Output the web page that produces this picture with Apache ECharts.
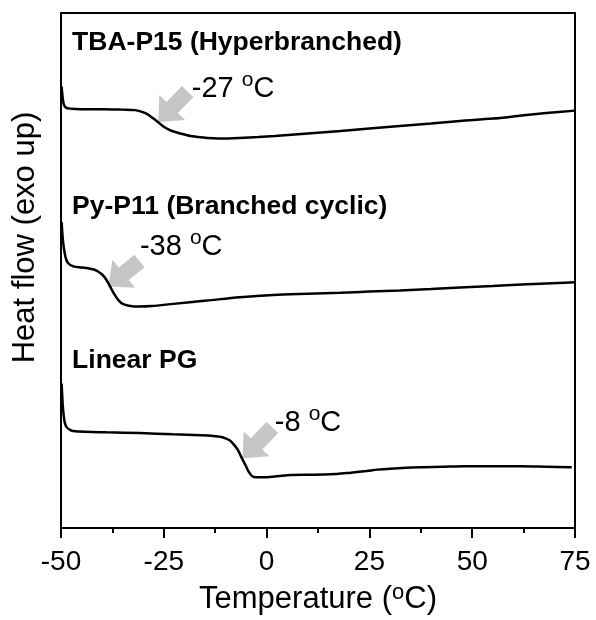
<!DOCTYPE html>
<html>
<head>
<meta charset="utf-8">
<script src="https://cdn.jsdelivr.net/npm/echarts@6/dist/echarts.min.js"></script>
<style>
html,body{margin:0;padding:0;background:#fff;}
#chart{width:596px;height:620px;}
</style>
</head>
<body>
<div id="chart"></div>
<script>
// ---- data (temperature in °C, heat flow in arbitrary units) ----
const tbaP15 = [
  [-49.85, 443], [-49.6, 432], [-49.3, 425], [-48.8, 422], [-47.8, 421], [-45, 420.5],
  [-40, 420.5], [-35, 420], [-32, 419.5], [-30.5, 418], [-29, 415.5], [-27.5, 411],
  [-26, 406], [-24.5, 401.5], [-23, 398.5], [-21, 396], [-18.5, 393.5], [-16, 392.2],
  [-13, 391.2], [-10, 391], [-6.5, 391.5], [-2, 392.5], [2, 393.5], [10, 396],
  [18, 398.5], [25, 401], [32.4, 403.5], [40, 406], [47, 408.5], [55, 411],
  [62, 414], [68, 416.5], [75, 419]
];
const pyP11 = [
  [-49.85, 307], [-49.6, 292], [-49.3, 281], [-48.9, 272], [-48.3, 266], [-47, 262.7],
  [-45, 261.5], [-43.5, 260.8], [-42, 259.5], [-41, 257.5], [-40, 254.5], [-39, 249.5],
  [-38, 242], [-37, 234.5], [-36, 228.5], [-35, 225], [-33.5, 223.2], [-31, 222.3],
  [-28, 222.8], [-22.7, 225], [-14.6, 228.3], [-6.5, 231.7], [1.6, 234], [10, 235.2],
  [18, 236.2], [25, 237.3], [32.4, 238.5], [40, 240], [47, 241.5], [55, 243],
  [62, 244.5], [68, 245.5], [75, 246.7]
];
const linearPG = [
  [-49.85, 145], [-49.6, 125], [-49.4, 115], [-49.1, 106], [-48.6, 101], [-47.8, 98.5],
  [-47, 97.3], [-44, 96.5], [-38.9, 96], [-30.8, 95.3], [-22.7, 94], [-16, 93],
  [-13, 92.3], [-11, 91.3], [-10, 90], [-9, 88], [-8, 84], [-7, 78.5], [-6, 70],
  [-5, 62], [-4.3, 56], [-3.5, 52], [-2.5, 51], [0, 51], [3, 52.2], [6, 53.2],
  [10, 53.4], [14, 53.6], [17, 54.2], [19.5, 55.1], [22, 56.3], [24.3, 57.3], [27, 58.6],
  [30, 59.6], [34, 60.5], [38, 61], [43, 61.5], [48, 62], [55, 62], [62, 62], [68, 61.5], [74.2, 61]
];
const xTicks = [-50, -25, 0, 25, 50, 75];
// curve names and their label anchor points
const curveNames = ['TBA-P15 (Hyperbranched)', 'Py-P11 (Branched cyclic)', 'Linear PG'];
const nameAnchors = [[-47.3, 487], [-47.3, 323], [-47.3, 168]];
// glass transition annotations
const tgValues = ['-27', '-38', '-8'];
const tgAnchors = [[-18.2, 443], [-30.8, 284.5], [2.0, 107.5]];
// arrows: [tailT, tailY, tipT, tipY]
const arrows = [
  [-19.2, 438, -26.34, 407.7],
  [-30.9, 268, -38.5, 242.5],
  [1.4, 101, -5.81, 70]
];

const chart = echarts.init(document.getElementById('chart'));
const FONT = 'Liberation Sans, Arial, sans-serif';

function arrowItem(params, api) {
  const q = api.coord([api.value(0), api.value(1)]);
  const p = api.coord([api.value(2), api.value(3)]);
  const dx = p[0] - q[0], dy = p[1] - q[1];
  const L = Math.sqrt(dx * dx + dy * dy);
  const ux = dx / L, uy = dy / L;
  const nx = -uy, ny = ux;
  const hl = 20, hw = 18, sw = 8;
  const bx = p[0] - ux * hl, by = p[1] - uy * hl;
  const pts = [
    [q[0] + nx * sw, q[1] + ny * sw],
    [bx + nx * sw, by + ny * sw],
    [bx + nx * hw, by + ny * hw],
    [p[0], p[1]],
    [bx - nx * hw, by - ny * hw],
    [bx - nx * sw, by - ny * sw],
    [q[0] - nx * sw, q[1] - ny * sw]
  ];
  return { type: 'polygon', shape: { points: pts }, style: { fill: '#c6c6c6' }, z2: 1 };
}

const lineStyle = { color: '#000', width: 2.5 };

const option = {
  animation: false,
  backgroundColor: '#fff',
  textStyle: { fontFamily: FONT },
  grid: { left: 61, right: 21, top: 13, bottom: 90 },
  xAxis: [{
    type: 'value', min: -50, max: 75, interval: 25,
    axisLine: { show: true, onZero: false, lineStyle: { color: '#000', width: 2 } },
    axisTick: { show: true, inside: false, length: 10, lineStyle: { color: '#000', width: 2 } },
    minorTick: { show: true, splitNumber: 2, length: 5, lineStyle: { color: '#000', width: 2 } },
    axisLabel: { show: true, fontSize: 28, color: '#000', margin: 20, fontFamily: FONT,
      formatter: function (v) { return xTicks.indexOf(v) >= 0 ? String(v) : ''; } },
    splitLine: { show: false },
    name: '{a|Temperature (}{s|o}{a|C)}',
    nameLocation: 'middle', nameGap: 54,
    nameTextStyle: { fontFamily: FONT, color: '#000',
      rich: { a: { fontSize: 31, color: '#000', fontFamily: FONT, padding: [2, 0, 0, 0] },
              s: { fontSize: 22, color: '#000', fontFamily: FONT, verticalAlign: 'top' } } }
  }, {
    type: 'value', position: 'top', min: -50, max: 75,
    axisLine: { show: true, onZero: false, lineStyle: { color: '#000', width: 2 } },
    axisTick: { show: false }, axisLabel: { show: false }, splitLine: { show: false }
  }],
  yAxis: [{
    type: 'value', min: 0, max: 517,
    axisLine: { show: true, onZero: false, lineStyle: { color: '#000', width: 2 } },
    axisTick: { show: false }, axisLabel: { show: false }, splitLine: { show: false },
    name: 'Heat flow (exo up)', nameLocation: 'middle', nameGap: 20,
    nameTextStyle: { fontSize: 31, color: '#000', fontFamily: FONT, padding: [0, 0, 0, 66] }
  }, {
    type: 'value', position: 'right', min: 0, max: 517,
    axisLine: { show: true, onZero: false, lineStyle: { color: '#000', width: 2 } },
    axisTick: { show: false }, axisLabel: { show: false }, splitLine: { show: false }
  }],
  series: [
    { type: 'line', data: tbaP15, showSymbol: false, smooth: 0.3, lineStyle: lineStyle, z: 3 },
    { type: 'line', data: pyP11, showSymbol: false, smooth: 0.3, lineStyle: lineStyle, z: 3 },
    { type: 'line', data: linearPG, showSymbol: false, smooth: 0.3, lineStyle: lineStyle, z: 3 },
    { type: 'custom', renderItem: arrowItem, data: arrows, z: 2,
      encode: { x: [0, 2], y: [1, 3] } },
    { type: 'scatter', symbolSize: 0, z: 4, itemStyle: { opacity: 1 },
      data: nameAnchors.map((a, i) => ({ value: a, name: curveNames[i] })),
      label: { show: true, position: 'right', distance: 0, formatter: '{b}', opacity: 1,
        fontSize: 26.5, fontWeight: 'bold', color: '#000', fontFamily: FONT } },
    { type: 'scatter', symbolSize: 0, z: 4, itemStyle: { opacity: 1 },
      data: tgAnchors.map((a, i) => ({ value: a, name: tgValues[i] })),
      label: { show: true, position: 'right', distance: 0, opacity: 1, color: '#000',
        formatter: function (p) { return '{a|' + p.name + ' }{s|o}{a|C}'; },
        rich: { a: { fontSize: 29, color: '#000', fontFamily: FONT, padding: [5, 0, 0, 0] },
                s: { fontSize: 21, color: '#000', fontFamily: FONT, verticalAlign: 'top' } } } }
  ]
};
chart.setOption(option);
</script>
</body>
</html>
